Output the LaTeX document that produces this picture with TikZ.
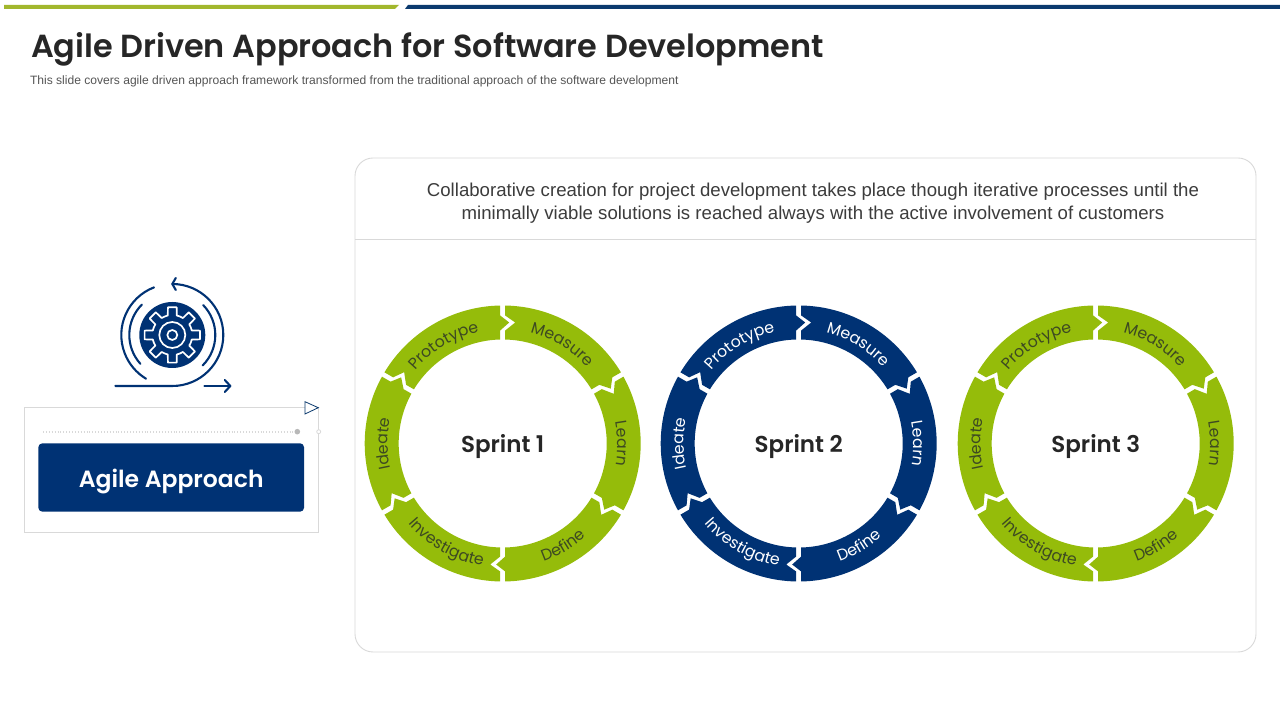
\documentclass[tikz,border=0pt]{standalone}
\usepackage{fontspec}
\usetikzlibrary{decorations.text}
\setmainfont{Liberation Sans}
\newfontfamily\geofont{Poppins}
\newfontfamily\geobold{Poppins SemiBold}
\definecolor{ringgreen}{HTML}{95BC0A}
\definecolor{ringblue}{HTML}{003274}
\definecolor{bargreen}{HTML}{A2B72D}
\definecolor{barblue}{HTML}{0B3A6E}
\definecolor{inkdark}{HTML}{262626}
\definecolor{inkgrey}{HTML}{555555}
\definecolor{inkgreen}{HTML}{3D4A22}
\definecolor{frame}{HTML}{D9D9D9}
\tikzset{
  label/.style={inner sep=0pt,outer sep=0pt},
  icon/.style={draw=ringblue,line width=2.1pt,line cap=round,line join=round},
  gearline/.style={draw=white,line width=1.7pt,line join=round},
}
\newcommand{\curvedlabel}[4]{%
  \path[decorate,decoration={text along path,text={|\labstyle|#4},text align=center}]
    (#1:#3 pt) arc[start angle=#1,end angle=#2,radius=#3 pt];}
\newcommand{\segment}[2]{%
  \fill[#1,rotate=#2]
    (88.96:138pt) arc[start angle=88.96,end angle=31.04,radius=138pt]
    -- ([rotate=-60]-2.5pt,128pt) -- ([rotate=-60]6.5pt,121pt) -- ([rotate=-60]-2.5pt,113pt)
    -- ([rotate=-60]-2.5pt,104pt) arc[start angle=31.38,end angle=88.62,radius=104pt]
    -- (2.5pt,113pt) -- (12.5pt,121pt) -- (2.5pt,128pt) -- cycle;}
\newcommand{\sprintring}[4]{%
  \begin{scope}[shift={(#1,276.5)}]
    \foreach \r in {0,-60,-120,-180,-240,-300}{\segment{#2}{\r}}
    \def\labstyle{\geofont\fontsize{15.8}{15.8}\selectfont\color{#3}}
    \curvedlabel{150}{92}{114}{Prototype}
    \curvedlabel{88}{30}{114}{Measure}
    \curvedlabel{29}{-29}{115}{Learn}
    \curvedlabel{-88}{-31}{125}{Define}
    \curvedlabel{-149}{-90}{124}{Investigate}
    \curvedlabel{209}{151}{115}{Ideate}
  \end{scope}
  \node[label,text=inkdark,font=\geobold\fontsize{23}{23}\selectfont] (sprint#4) at (#1,273) {Sprint #4};}
\begin{document}
\begin{tikzpicture}[x=1pt,y=1pt]
\useasboundingbox (0,0) rectangle (1280,720);
\fill[white] (0,0) rectangle (1280,720);
% top bars
\fill[bargreen] (4,715) -- (399,715) -- (395,711) -- (4,711) -- cycle;
\fill[barblue] (408,715) -- (1280,715) -- (1280,711) -- (405,711) -- cycle;
% title
\node[label,anchor=base west,text=inkdark,font=\geobold\fontsize{31.9}{32}\selectfont] (title) at (31,662) {Agile Driven Approach for Software Development};
\node[label,anchor=base west,text=inkgrey,font=\fontsize{12.08}{12.08}\selectfont] (subtitle) at (30,635) {This slide covers agile driven approach framework transformed from the traditional approach of the software development};
% main panel
\draw[frame,line width=0.9pt,rounded corners=18pt] (355,562) rectangle (1256,68);
\draw[frame,line width=0.9pt] (355,480.5) -- (1256,480.5);
\node[label,align=center,text=inkdark!90,font=\fontsize{18.62}{23}\selectfont] (callout) at (813,517) {Collaborative creation for project development takes place though iterative processes until the\\minimally viable solutions is reached always with the active involvement of customers};
% rings
\sprintring{502.7}{ringgreen}{inkgreen}{1}
\sprintring{798.7}{ringblue}{white}{2}
\sprintring{1095.7}{ringgreen}{inkgreen}{3}
% left box
\draw[frame,line width=0.9pt] (24.3,312.3) -- (318.3,312.3) -- (318.3,187.7) -- (24.3,187.7) -- cycle;
\draw[barblue,fill=white,line width=0.8pt,line join=miter] (305,318.3) -- (318.3,312.3) -- (305,306) -- cycle;
\draw[frame,line width=2.2pt,dash pattern=on 0.7pt off 2.2pt] (43,288.3) -- (296,288.3);
\fill[frame!85!black] (297.3,288.3) circle (2.8pt);
\draw[frame,fill=white,line width=0.8pt] (318.7,288.3) circle (2pt);
\node[label,minimum width=265.7pt,minimum height=68.4pt,fill=ringblue,rounded corners=4pt,text=white,font=\geobold\fontsize{23.5}{23.5}\selectfont] (agile) at (171.2,242.5) {\smash{\raisebox{-10pt}{Agile Approach}}};
% icon
\begin{scope}[shift={(172.3,385)}]
  \fill[ringblue] (0,0) circle (33pt);
  \draw[gearline] (-13:20pt)
    \foreach \k in {0,...,7}{
      -- ({\k*45-13}:20pt) -- ({\k*45-9}:28pt) -- ({\k*45+9}:28pt) -- ({\k*45+13}:20pt)
      arc[start angle={\k*45+13},end angle={\k*45+32},radius=20pt]
    } -- cycle;
  \draw[gearline] (0,0) circle (13pt);
  \draw[gearline] (0,0) circle (5pt);
  \draw[icon] (111:51pt) arc[start angle=111,end angle=239,radius=51pt];
  \draw[icon] (135:43pt) arc[start angle=135,end angle=222,radius=43pt];
  \draw[icon] (44:43pt) arc[start angle=44,end angle=-45,radius=43pt];
  \draw[icon] (90:51pt) arc[start angle=90,end angle=-90,radius=51pt] -- (-57,-51);
  \draw[icon] (3.5,57) -- (0,51) -- (3.5,45);
  \draw[icon] (32,-51) -- (58,-51);
  \draw[icon] (52.5,-45) -- (58,-51) -- (52.5,-57);
\end{scope}
\end{tikzpicture}
\end{document}
